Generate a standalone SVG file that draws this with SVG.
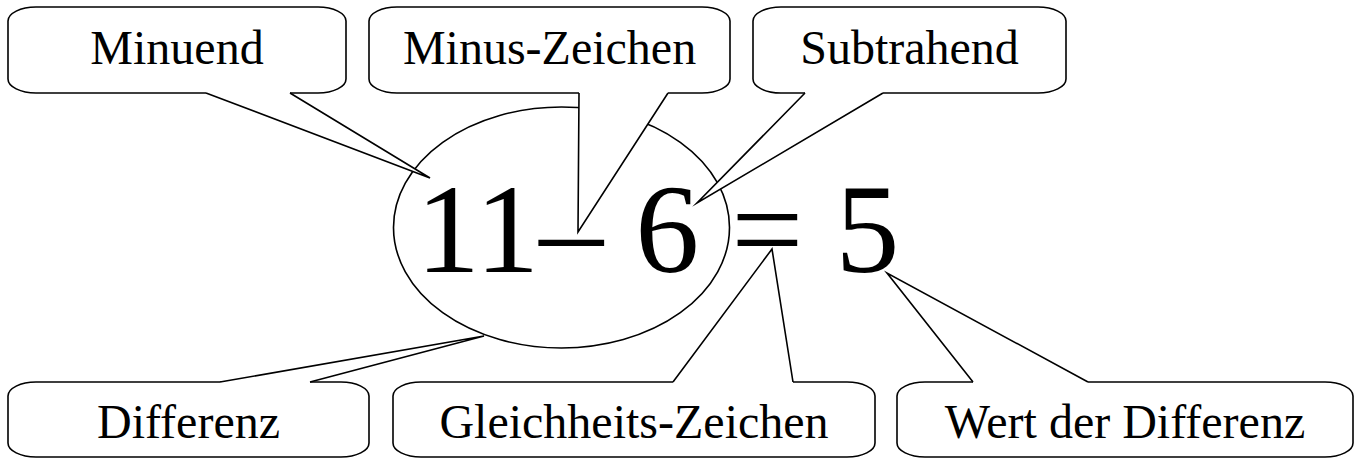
<svg xmlns="http://www.w3.org/2000/svg" width="1360" height="459" viewBox="0 0 1360 459">
<style>
.box{fill:#fff;stroke:#000;stroke-width:1.6}
.ring{fill:none;stroke:#000;stroke-width:1.6}
.tf{fill:#fff;stroke:none}
.ts{fill:none;stroke:#000;stroke-width:1.6;stroke-linejoin:miter;stroke-miterlimit:10}
.lbl{font-family:"Liberation Serif","Times New Roman",serif;font-size:48px;fill:#000;text-anchor:middle}
.eq{font-family:"Liberation Serif","Times New Roman",serif;font-size:128px;fill:#000}
</style>
<rect width="1360" height="459" fill="#fff"/>
<g id="ring">
<ellipse class="ring" cx="561.5" cy="227.5" rx="168" ry="120.5"/>
</g>
<g id="minuend"><rect class="box" x="8" y="7" width="338" height="86" rx="28" ry="14"/><text class="lbl" x="177" y="64">Minuend</text></g>
<g id="minus-zeichen"><rect class="box" x="369" y="7" width="361" height="86" rx="28" ry="14"/><text class="lbl" x="549.5" y="64">Minus-Zeichen</text></g>
<g id="subtrahend"><rect class="box" x="753" y="7" width="313" height="86" rx="28" ry="14"/><text class="lbl" x="909.5" y="64">Subtrahend</text></g>
<g id="differenz"><rect class="box" x="8" y="382" width="361" height="75" rx="28" ry="14"/><text class="lbl" x="188.5" y="438">Differenz</text></g>
<g id="gleichheits-zeichen"><rect class="box" x="393" y="382" width="482" height="75" rx="28" ry="14"/><text class="lbl" x="634" y="438">Gleichheits-Zeichen</text></g>
<g id="wert-der-differenz"><rect class="box" x="897" y="382" width="456" height="75" rx="28" ry="14"/><text class="lbl" x="1125" y="438">Wert der Differenz</text></g>
<g id="connectors">
<path class="tf" d="M206,90 V93 L430,178 L290,93 V90 Z"/><path class="ts" d="M206,93 L430,178 L290,93"/>
<path class="tf" d="M579,90 V93 L578,232 L668,93 V90 Z"/><path class="ts" d="M579,93 L578,232 L668,93"/>
<path class="tf" d="M805,90 V93 L697,203 L883,93 V90 Z"/><path class="ts" d="M805,93 L697,203 L883,93"/>
<path class="tf" d="M220,385 V382 L484,336 L310,382 V385 Z"/><path class="ts" d="M220,382 L484,336 L310,382"/>
<path class="tf" d="M673,385 V382 L772,249 L793,382 V385 Z"/><path class="ts" d="M673,382 L772,249 L793,382"/>
<path class="tf" d="M973,385 V382 L887,273 L1088,382 V385 Z"/><path class="ts" d="M973,382 L887,273 L1088,382"/>
</g>
<g id="equation">
<text class="eq" x="416" y="272">11– 6 = 5</text>
</g>
</svg>
